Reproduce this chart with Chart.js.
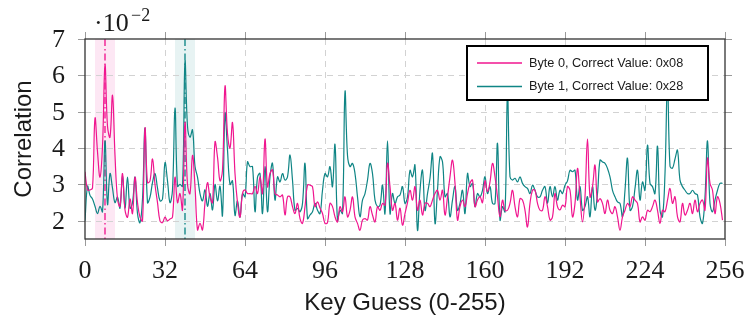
<!DOCTYPE html>
<html>
<head>
<meta charset="utf-8">
<script src="https://cdn.jsdelivr.net/npm/chart.js@4"></script>
<style>
  body { margin: 0; background: #fff; }
  #wrap { width: 751px; height: 327px; }
</style>
</head>
<body>
<div id="wrap"><canvas id="chart" width="751" height="327"></canvas></div>
<script>
// correlation values are in units of 1e-2
const byte0 = [
  3.35, 2.85, 2.85, 2.9, 4.82, 3.9, 3.2, 4.05, 6.28, 4.6, 4.3, 5.45, 3.8, 2.6, 2.4, 3.3,
  2.3, 2.1, 2.6, 2.2, 3.2, 2.5, 2.1, 2.0, 4.55, 3.05, 3.1, 3.7, 3.0, 2.5, 2.0, 1.95,
  2.1, 2.0, 2.05, 2.1, 3.2, 2.5, 2.75, 2.3, 4.7, 3.0, 2.75, 3.8, 2.95, 1.75, 1.93, 1.75,
  2.5, 3.05, 2.65, 2.5, 4.17, 3.75, 3.1, 3.4, 5.7, 4.4, 4.0, 4.7, 3.3, 2.5, 2.1, 2.75,
  2.85, 2.75, 2.75, 2.75, 2.95, 2.75, 3.21, 2.75, 4.25, 2.94, 3.3, 3.4, 2.75, 2.71, 2.66, 2.71,
  2.16, 2.66, 2.66, 2.39, 2.2, 2.48, 2.06, 1.93, 2.39, 2.98, 2.98, 2.94, 2.39, 2.52, 2.35, 2.2,
  1.93, 1.95, 2.48, 2.39, 2.11, 1.97, 2.39, 2.25, 2.66, 2.11, 2.29, 2.66, 2.11, 1.93, 1.74, 2.02,
  2.06, 2.02, 2.39, 2.16, 1.97, 2.39, 2.29, 2.48, 2.43, 3.58, 2.94, 2.29, 2.48, 2.02, 2.35, 1.88,
  2.2, 2.5, 2.84, 2.57, 2.94, 2.29, 2.57, 2.16, 2.48, 2.48, 2.39, 2.57, 2.75, 2.84, 2.57, 2.84,
  2.16, 2.66, 3.21, 3.67, 3.03, 2.02, 2.39, 2.57, 2.39, 2.75, 3.03, 3.12, 2.39, 2.57, 2.66, 2.5,
  3.1, 2.8, 3.07, 3.58, 3.21, 2.66, 2.11, 2.57, 2.29, 2.29, 2.48, 2.84, 2.39, 2.11, 2.61, 2.57,
  2.29, 1.83, 2.48, 2.84, 2.84, 2.48, 2.29, 2.29, 2.66, 2.39, 2.02, 2.11, 2.75, 2.39, 2.3, 2.43,
  2.39, 2.94, 2.84, 2.11, 2.48, 3.44, 2.66, 1.97, 2.66, 4.25, 2.66, 2.94, 3.53, 2.52, 2.61, 2.48,
  2.2, 2.57, 2.29, 2.2, 2.39, 2.11, 1.74, 2.11, 2.29, 2.48, 2.39, 2.66, 2.57, 2.48, 1.97, 2.11,
  2.02, 2.29, 2.25, 2.39, 2.57, 2.29, 1.93, 2.29, 2.25, 2.57, 2.89, 2.48, 2.66, 2.11, 1.97, 2.48,
  2.16, 2.29, 2.48, 2.2, 2.57, 2.25, 2.48, 2.57, 2.29, 3.72, 3.03, 2.84, 2.2, 2.66, 2.48, 2.02
];
const byte1 = [
  2.0, 2.95, 2.7, 2.6, 2.4, 2.2, 2.4, 2.25, 4.2, 2.45, 3.3, 2.9, 2.5, 2.65, 2.35, 3.25,
  2.35, 3.2, 2.35, 2.5, 3.2, 2.2, 1.95, 2.6, 4.55, 2.5, 2.65, 3.05, 3.3, 2.9, 2.55, 2.6,
  3.6, 3.1, 2.5, 2.85, 5.1, 2.95, 3.0, 2.95, 6.38, 4.6, 4.3, 4.5, 3.5, 3.2, 2.75, 2.55,
  2.85, 2.4, 2.75, 2.3, 3.0, 2.55, 2.95, 2.15, 4.95, 3.95, 3.0, 3.1, 2.15, 2.55, 2.1, 2.75,
  2.66, 3.62, 3.49, 3.49, 2.25, 3.2, 3.3, 2.2, 3.49, 2.25, 3.21, 3.58, 2.57, 3.21, 3.07, 3.3,
  3.12, 3.21, 3.81, 3.12, 2.29, 2.34, 2.25, 2.48, 3.58, 2.06, 2.16, 2.25, 2.48, 2.29, 2.2, 2.84,
  3.3, 3.21, 3.49, 2.94, 4.1, 2.02, 2.29, 2.2, 5.55, 3.8, 3.49, 3.58, 3.3, 2.66, 2.11, 2.57,
  2.75, 3.12, 3.58, 3.3, 2.57, 2.39, 2.43, 2.98, 2.2, 4.2, 2.2, 2.75, 2.48, 2.66, 2.71, 2.94,
  2.48, 2.66, 3.39, 3.21, 3.53, 1.74, 2.84, 3.39, 2.29, 2.75, 3.17, 3.85, 1.93, 2.84, 3.76, 3.62,
  2.66, 2.75, 2.11, 2.57, 2.94, 2.29, 2.48, 2.84, 2.2, 3.3, 2.94, 3.03, 2.39, 2.75, 2.66, 2.84,
  3.21, 2.75, 2.94, 2.48, 2.48, 4.13, 2.02, 2.39, 2.25, 5.5, 3.21, 3.12, 3.17, 3.07, 3.21, 3.03,
  2.94, 2.89, 2.75, 2.98, 2.84, 2.66, 2.66, 2.84, 2.94, 2.48, 2.94, 2.66, 2.94, 2.57, 2.84, 2.75,
  2.98, 3.1, 3.39, 3.35, 3.39, 2.57, 2.94, 2.29, 2.39, 2.66, 2.11, 2.94, 2.29, 2.75, 3.67, 3.62,
  3.58, 3.44, 3.21, 2.84, 2.66, 2.52, 2.48, 2.11, 2.84, 3.72, 2.29, 2.39, 2.89, 3.39, 2.57, 3.07,
  2.84, 4.08, 3.03, 2.94, 2.75, 4.05, 2.29, 2.11, 3.3, 5.8, 3.5, 3.45, 3.7, 3.94, 3.12, 2.94,
  2.84, 2.75, 2.75, 2.84, 2.75, 2.71, 2.11, 1.93, 2.66, 4.2, 2.48, 2.25, 2.57, 2.84, 3.03, 3.03
];
const keys = byte0.map((_, i) => i);
const seriesNames = ['Byte 0, Correct Value: 0x08', 'Byte 1, Correct Value: 0x28'];
const seriesColors = ['#f0168f', '#0f8585'];
const correctKeys = [8, 40];
const xTicks = [0, 32, 64, 96, 128, 160, 192, 224, 256];
const yTicks = [2, 3, 4, 5, 6, 7];

const SERIF = '"Liberation Serif", "DejaVu Serif", serif';
const SANS = '"Liberation Sans", "DejaVu Sans", sans-serif';

const decor = {
    id: 'decor',
    beforeDatasetsDraw(chart) {
        const { ctx, chartArea: a, scales: { x, y } } = chart;
        ctx.save();
        // highlight bands round the correct key
        const bandFills = ['rgba(240, 22, 143, 0.1)', 'rgba(15, 133, 133, 0.1)'];
        correctKeys.forEach((k, i) => {
            const x0 = x.getPixelForValue(k - 4), x1 = x.getPixelForValue(k + 4);
            ctx.fillStyle = bandFills[i];
            ctx.fillRect(x0, a.top, x1 - x0, a.bottom - a.top);
        });
        // dashed grid
        ctx.strokeStyle = '#d2d2d2';
        ctx.lineWidth = 1;
        ctx.setLineDash([6, 5]);
        xTicks.slice(1, -1).forEach(t => {
            const px = Math.round(x.getPixelForValue(t)) + 0.5;
            ctx.beginPath(); ctx.moveTo(px, a.top); ctx.lineTo(px, a.bottom); ctx.stroke();
        });
        yTicks.slice(0, -1).forEach(t => {
            const py = Math.round(y.getPixelForValue(t)) + 0.5;
            ctx.beginPath(); ctx.moveTo(a.left, py); ctx.lineTo(a.right, py); ctx.stroke();
        });
        // dash-dot markers at the correct keys
        ctx.lineWidth = 1.8;
        ctx.globalAlpha = 0.75;
        ctx.setLineDash([7, 3, 1.5, 3]);
        correctKeys.forEach((k, i) => {
            const px = x.getPixelForValue(k);
            ctx.strokeStyle = seriesColors[i];
            ctx.beginPath(); ctx.moveTo(px, a.top); ctx.lineTo(px, a.bottom); ctx.stroke();
        });
        ctx.restore();
    },
    afterDatasetsDraw(chart) {
        const { ctx, chartArea: a, scales: { x, y } } = chart;
        ctx.save();
        ctx.setLineDash([]);
        // tick marks outside the frame
        ctx.strokeStyle = '#9a9a9a';
        ctx.lineWidth = 1;
        xTicks.forEach(t => {
            const px = Math.round(x.getPixelForValue(t)) + 0.5;
            ctx.beginPath();
            ctx.moveTo(px, a.bottom); ctx.lineTo(px, a.bottom + 7);
            ctx.moveTo(px, a.top); ctx.lineTo(px, a.top - 7);
            ctx.stroke();
        });
        yTicks.forEach(t => {
            const py = Math.round(y.getPixelForValue(t)) + 0.5;
            ctx.beginPath();
            ctx.moveTo(a.left - 7, py); ctx.lineTo(a.left, py);
            ctx.moveTo(a.right, py); ctx.lineTo(a.right + 7, py);
            ctx.stroke();
        });
        // frame
        ctx.strokeStyle = '#333';
        ctx.lineWidth = 1.3;
        ctx.strokeRect(a.left, a.top, a.right - a.left, a.bottom - a.top);

        // tick labels
        ctx.fillStyle = '#1a1a1a';
        ctx.font = '26px ' + SERIF;
        ctx.textAlign = 'center';
        ctx.textBaseline = 'middle';
        xTicks.forEach(t => ctx.fillText(String(t), x.getPixelForValue(t), 271));
        ctx.textAlign = 'right';
        yTicks.forEach(t => ctx.fillText(String(t), 65, y.getPixelForValue(t) + 1));

        // exponent
        ctx.textAlign = 'left';
        ctx.textBaseline = 'alphabetic';
        ctx.font = '26px ' + SERIF;
        ctx.fillText('\u00b710', 94, 31);
        ctx.font = '18px ' + SERIF;
        ctx.fillText('\u22122', 131, 21);

        // axis titles
        ctx.font = '24px ' + SANS;
        ctx.textAlign = 'center';
        ctx.textBaseline = 'middle';
        ctx.fillText('Key Guess (0-255)', (a.left + a.right) / 2, 303);
        ctx.save();
        ctx.translate(24, (a.top + a.bottom) / 2);
        ctx.rotate(-Math.PI / 2);
        ctx.fillText('Correlation', 0, 0);
        ctx.restore();

        // legend box
        const lx = 467, ly = 46, lw = 241, lh = 54;
        ctx.fillStyle = '#fff';
        ctx.fillRect(lx, ly, lw, lh);
        ctx.strokeStyle = '#000';
        ctx.lineWidth = 2;
        ctx.strokeRect(lx, ly, lw, lh);
        ctx.font = '12.7px ' + SANS;
        ctx.textAlign = 'left';
        ctx.textBaseline = 'middle';
        seriesNames.forEach((name, i) => {
            const ry = 63 + i * 23.5;
            ctx.strokeStyle = seriesColors[i];
            ctx.lineWidth = 1.5;
            ctx.beginPath(); ctx.moveTo(477, ry); ctx.lineTo(522, ry); ctx.stroke();
            ctx.fillStyle = '#1a1a1a';
            ctx.fillText(name, 529, ry);
        });
        ctx.restore();
    }
};

new Chart(document.getElementById('chart').getContext('2d'), {
    type: 'line',
    data: {
        datasets: [byte0, byte1].map((vals, i) => ({
            label: seriesNames[i],
            data: vals.map((v, j) => ({ x: keys[j], y: v })),
            borderColor: seriesColors[i],
            borderWidth: 1.2,
            pointRadius: 0,
            tension: 0.4,
            fill: false
        }))
    },
    options: {
        responsive: false,
        animation: false,
        layout: { padding: { left: 85, right: 26, top: 39, bottom: 88 } },
        plugins: { legend: { display: false }, tooltip: { enabled: false } },
        scales: {
            x: { type: 'linear', min: 0, max: 256, display: false },
            y: { type: 'linear', min: 1.5, max: 7, display: false }
        }
    },
    plugins: [decor]
});
</script>
</body>
</html>
